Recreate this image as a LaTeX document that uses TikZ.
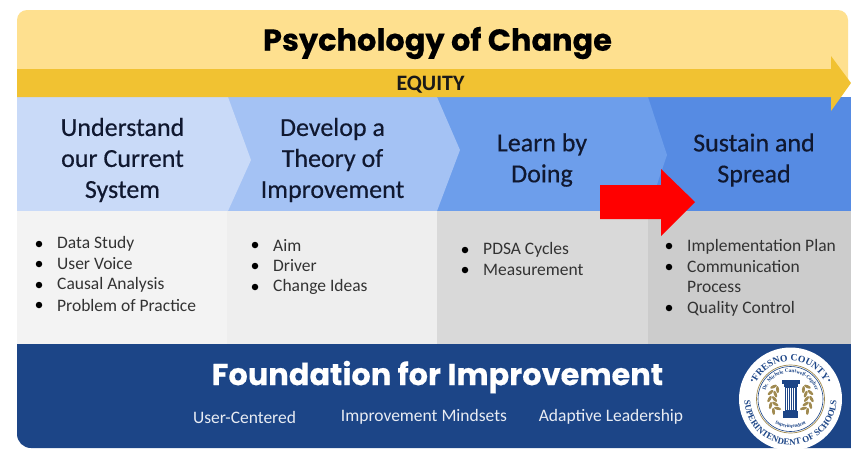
\documentclass[tikz,border=0pt]{standalone}
\usepackage{fontspec}
\setmainfont{Carlito}
\newfontfamily\headf[FakeBold=0.35]{Carlito}
\newfontfamily\pop[FakeBold=0.3]{Poppins}
\newfontfamily\sealf{Liberation Serif}
\usetikzlibrary{decorations.text}
\definecolor{topyel}{HTML}{FEE08F}
\definecolor{band}{HTML}{F1C232}
\definecolor{c1}{HTML}{C9DAF8}
\definecolor{c2}{HTML}{A4C2F4}
\definecolor{c3}{HTML}{6D9EEB}
\definecolor{c4}{HTML}{568BE3}
\definecolor{g1}{HTML}{F3F3F3}
\definecolor{g2}{HTML}{EEEEEE}
\definecolor{g3}{HTML}{D9D9D9}
\definecolor{g4}{HTML}{CCCCCC}
\definecolor{navy}{HTML}{1C4587}
\definecolor{ink}{HTML}{101830}
\definecolor{gold}{HTML}{A08A50}
\tikzset{
  head/.style={font=\headf\fontsize{26}{31}\selectfont,text=ink,align=center,inner sep=0pt},
  item/.style={font=\fontsize{17.5}{20.5}\selectfont,text=black!80,anchor=west,inner sep=0pt,align=left},
  dotb/.style={circle,fill=black,inner sep=0pt,minimum size=6.5pt},
  foot/.style={font=\fontsize{17.5}{20}\selectfont,text=white!90!navy,inner sep=0pt},
  laurel/.style={fill=gold,draw=none}
}
\begin{document}
\begin{tikzpicture}[x=1pt,y=-1pt]
\useasboundingbox (0,0) rectangle (851,448);
\fill[white] (0,0) rectangle (851,448);
% top panel
\fill[topyel,rounded corners=10pt] (17,90) -- (17,10) -- (848,10) -- (848,90) -- cycle;
% chevrons, back to front
\fill[c4] (648,97) rectangle (851,211);
\fill[c3] (437,97) -- (648,97) -- (667,155) -- (648,211) -- (437,211) -- cycle;
\fill[c2] (228,97) -- (437,97) -- (460,150) -- (437,211) -- (228,211) -- cycle;
\fill[c1] (17,97) -- (228,97) -- (251,160) -- (228,211) -- (17,211) -- cycle;
% grey columns
\fill[g1] (17,211) rectangle (227,344);
\fill[g2] (227,211) rectangle (437,344);
\fill[g3] (437,211) rectangle (648,344);
\fill[g4] (648,211) rectangle (851,344);
% foundation
\fill[navy,rounded corners=14pt] (17,330) -- (17,448) -- (880,448) -- (880,330) -- cycle;
\fill[navy] (17,344) rectangle (851,400);
\fill[g1] (17,330) rectangle (227,344);
\fill[g2] (227,330) rectangle (437,344);
\fill[g3] (437,330) rectangle (648,344);
\fill[g4] (648,330) rectangle (851,344);
% equity arrow
\fill[band] (17,69) -- (831,69) -- (831,56) -- (851,83) -- (831,111) -- (831,97) -- (17,97) -- cycle;
% titles
\node[font=\pop\bfseries\fontsize{30.4}{34}\selectfont,text=black,inner sep=0pt] (title) at (437.5,43) {Psychology of Change};
\node[font=\bfseries\fontsize{22}{24}\selectfont,text=black!90,inner sep=0pt] (equity) at (430.5,85) {EQUITY};
% heads
\node[head] (h1) at (122.5,160) {Understand\\our Current\\System};
\node[head] (h2) at (332.5,160) {Develop a\\Theory of\\Improvement};
\node[head] (h3) at (542,160) {Learn by\\Doing};
\node[head] (h4) at (754,160) {Sustain and\\Spread};
% bullets
\foreach \n/\y/\t in {a/244/Data Study,b/264/User Voice,c/285/Causal Analysis,d/305/Problem of Practice}{
  \node[dotb] (d1\n) at (39,\y) {};
  \node[item] (i1\n) at (57,\y) {\t};
}
\foreach \n/\y/\t in {a/245/Aim,b/266/Driver,c/287/Change Ideas}{
  \node[dotb] (d2\n) at (255,\y) {};
  \node[item] (i2\n) at (273,\y) {\t};
}
\foreach \n/\y/\t in {a/250/PDSA Cycles,b/270/Measurement}{
  \node[dotb] (d3\n) at (465,\y) {};
  \node[item] (i3\n) at (483,\y) {\t};
}
\node[dotb] (d4a) at (669,246) {};
\node[item] (i4a) at (687,247) {Implementation Plan};
\node[dotb] (d4b) at (669,267) {};
\node[item,anchor=north west] (i4b) at (687,260) {Communication\\Process};
\node[dotb] (d4c) at (669,308) {};
\node[item] (i4c) at (687,309) {Quality Control};
% foundation text
\node[font=\pop\bfseries\fontsize{30.4}{34}\selectfont,text=white,inner sep=0pt] (found) at (437.5,377) {Foundation for Improvement};
\node[foot] (f1) at (244.5,417) {User-Centered};
\node[foot] (f2) at (424,417) {Improvement Mindsets};
\node[foot] (f3) at (611,417) {Adaptive Leadership};
% red arrow
\fill[red] (600,185) -- (661,185) -- (661,169) -- (695,202) -- (661,236) -- (661,219) -- (600,219) -- cycle;
% seal
\begin{scope}[shift={(790.5,399)},y=1pt]
\fill[white] (0,0) circle[radius=51.5];
\draw[gold,line width=0.7pt] (0,0) circle[radius=34];
\draw[navy,line width=0.6pt] (0,0) circle[radius=32.5];
\path[decoration={text along path,text align=center,
  text={|\sealf\bfseries\fontsize{9.6}{9.6}\selectfont\color{navy}|FRESNO COUNTY}},decorate]
  (175:38) arc[start angle=175,end angle=5,radius=38];
\path[decoration={text along path,text align=center,
  text={|\sealf\bfseries\fontsize{8.9}{8.9}\selectfont\color{navy}|SUPERINTENDENT OF SCHOOLS}},decorate]
  (150:46) arc[start angle=150,end angle=390,radius=46];
\path[decoration={text along path,text align=center,
  text={|\sealf\bfseries\fontsize{5.2}{5.2}\selectfont\color{navy}|Dr. Michele Cantwell-Copher}},decorate]
  (190:26.5) arc[start angle=190,end angle=-10,radius=26.5];
\path[decoration={text along path,text align=center,
  text={|\sealf\bfseries\fontsize{5}{5}\selectfont\color{navy}|Superintendent}},decorate]
  (200:29) arc[start angle=200,end angle=340,radius=29];
\fill[navy] (154:43) circle[radius=1.1];
\fill[navy] (26:43) circle[radius=1.1];
% column
\fill[navy] (-9,15) rectangle (9,19);
\fill[navy] (-7,12) rectangle (7,15);
\fill[navy] (-6,-12) rectangle (6,12);
\foreach \x in {-4,-2,0,2,4} \draw[white,line width=0.5pt] (\x,-11) -- (\x,11);
\fill[navy] (-7.5,-19) rectangle (7.5,-12);
% laurels
\foreach \a in {-36,-18,0,18,36}{
  \fill[laurel,shift={(180-\a:16)},rotate=-\a+130] (0,0) ellipse[x radius=3.6,y radius=1.5];
  \fill[laurel,shift={(180-\a:21)},rotate=-\a+60] (0,0) ellipse[x radius=3.6,y radius=1.5];
  \fill[laurel,shift={(\a:16)},rotate=\a+50] (0,0) ellipse[x radius=3.6,y radius=1.5];
  \fill[laurel,shift={(\a:21)},rotate=\a+120] (0,0) ellipse[x radius=3.6,y radius=1.5];
}
\end{scope}
\end{tikzpicture}
\end{document}
